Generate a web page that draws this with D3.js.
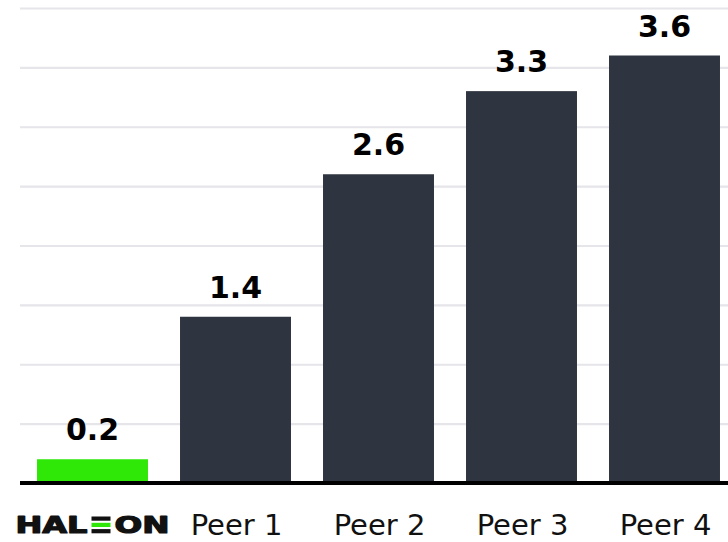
<!DOCTYPE html>
<html>
<head>
<meta charset="utf-8">
<script src="https://cdn.jsdelivr.net/npm/d3@7"></script>
<style>
  html, body { margin: 0; padding: 0; background: #fff; }
  svg { display: block; }
</style>
</head>
<body>
<svg id="chart" width="728" height="542"></svg>
<script>
const categories = ["HALEON", "Peer 1", "Peer 2", "Peer 3", "Peer 4"];
const values = [0.2, 1.4, 2.6, 3.3, 3.6];
const valueLabels = ["0.2", "1.4", "2.6", "3.3", "3.6"];
const gridTicks = [0.5, 1, 1.5, 2, 2.5, 3, 3.5, 4];

const W = 728, H = 542;
const svg = d3.select("#chart");

const x = d3.scaleBand().domain(categories).range([21, 736]).paddingInner(0.224).paddingOuter(0.112);
const y = d3.scaleLinear().domain([0, 4]).range([483, 8]);

// gridlines
const grid = svg.append("g").attr("transform", "translate(20,0)")
  .call(d3.axisLeft(y).tickValues(gridTicks).tickSize(-(W - 20)).tickFormat(""));
grid.select(".domain").remove();
grid.selectAll(".tick line").attr("stroke", "#e5e5ea").attr("stroke-width", 2.2);

// bars
svg.append("g").selectAll("rect").data(values).join("rect")
  .attr("x", (d, i) => x(categories[i]))
  .attr("width", x.bandwidth())
  .attr("y", d => y(d))
  .attr("height", d => y(0) - y(d))
  .attr("fill", (d, i) => i === 0 ? "#2fe808" : "#2f3540");

// baseline
svg.append("line")
  .attr("x1", 20).attr("x2", W)
  .attr("y1", y(0)).attr("y2", y(0))
  .attr("stroke", "#000").attr("stroke-width", 4);

// value labels
svg.append("g").selectAll("text").data(values).join("text")
  .attr("x", (d, i) => x(categories[i]) + x.bandwidth() / 2)
  .attr("y", d => y(d) - 19)
  .attr("text-anchor", "middle")
  .attr("font-family", "DejaVu Sans, Verdana, sans-serif")
  .attr("font-weight", "bold")
  .attr("font-size", 30)
  .attr("fill", "#000")
  .text((d, i) => valueLabels[i]);

// category labels
const labelY = 535;
svg.append("g").selectAll("text").data(categories.slice(1)).join("text")
  .attr("x", d => x(d) + x.bandwidth() / 2 + 1)
  .attr("y", labelY)
  .attr("text-anchor", "middle")
  .attr("font-family", "DejaVu Sans, Verdana, sans-serif")
  .attr("font-size", 29)
  .attr("fill", "#111")
  .text(d => d);

// HALEON logo (first category)
const cx0 = x(categories[0]) + x.bandwidth() / 2;
const logo = svg.append("g").attr("transform", `translate(${cx0 - 77},0)`);
const logoBase = 533;
const logoFont = { family: "DejaVu Sans, Verdana, sans-serif", size: 22.5 };
logo.append("text")
  .attr("x", 0).attr("y", logoBase)
  .attr("font-family", logoFont.family).attr("font-weight", "bold").attr("font-size", logoFont.size)
  .attr("textLength", 72).attr("lengthAdjust", "spacingAndGlyphs")
  .attr("stroke", "#111").attr("stroke-width", 1.2).attr("stroke-linejoin", "round")
  .attr("fill", "#111").text("HAL");
[0, 1, 2].forEach(k => {
  logo.append("rect")
    .attr("x", 76).attr("width", 19)
    .attr("y", logoBase - 16.5 + k * 6.3).attr("height", 4.2)
    .attr("fill", k === 1 ? "#2fe808" : "#111");
});
logo.append("text")
  .attr("x", 99).attr("y", logoBase)
  .attr("font-family", logoFont.family).attr("font-weight", "bold").attr("font-size", logoFont.size)
  .attr("textLength", 55).attr("lengthAdjust", "spacingAndGlyphs")
  .attr("stroke", "#111").attr("stroke-width", 1.2).attr("stroke-linejoin", "round")
  .attr("fill", "#111").text("ON");
</script>
</body>
</html>
